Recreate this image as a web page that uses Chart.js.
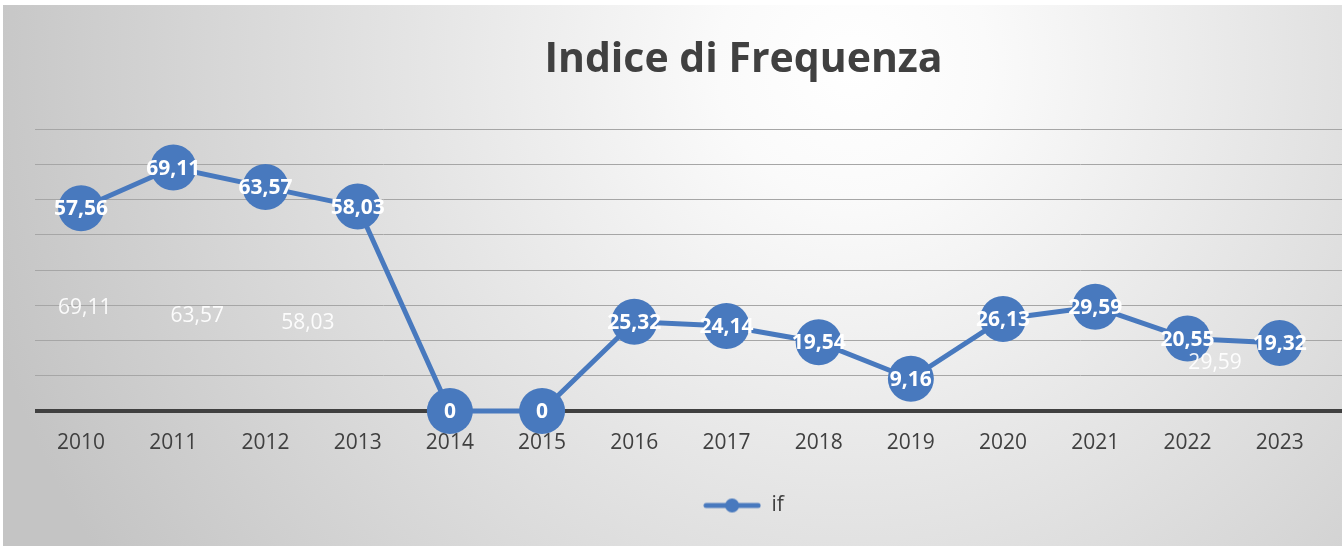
<!DOCTYPE html>
<html>
<head>
<meta charset="utf-8">
<script src="https://cdn.jsdelivr.net/npm/chart.js@4/dist/chart.umd.min.js"></script>
<style>
  html, body { margin: 0; padding: 0; background: #ffffff; overflow: hidden; }
  #wrap {
    position: absolute; left: 3px; top: 5px; width: 1339px; height: 541px; overflow: hidden;
    background: radial-gradient(circle 900px at 850px 60px, #ffffff 0%, #fafafa 15%, #c4c4c4 100%);
  }
  #chartBox { position: absolute; left: 0; top: 0; width: 1449px; height: 541px; }
</style>
</head>
<body>
<div id="wrap"><div id="chartBox"><canvas id="myChart"></canvas></div></div>
<script>
// data
var years = ['2010', '2011', '2012', '2013', '2014', '2015', '2016', '2017', '2018', '2019', '2020', '2021', '2022', '2023'];
var ifValues = [57.56, 69.11, 63.57, 58.03, 0, 0, 25.32, 24.14, 19.54, 9.16, 26.13, 29.59, 20.55, 19.32];
var yTicks = [0, 10, 20, 30, 40, 50, 60, 70, 80];

// stray labels left over in the original picture
var ghostText = ['69,11', '63,57', '58,03', '29,59'];
var ghostX = [0.04, 1.26, 2.46, 12.3];
var ghostY = [29.2, 27.0, 25.0, 13.6];

var blue = '#4879BE';

function fmt(v) {
    return v === 0 ? '0' : v.toFixed(2).replace('.', ',');
}

// legend marker: line with a dot in the middle
var marker = document.createElement('canvas');
marker.width = 58; marker.height = 16;
var mctx = marker.getContext('2d');
mctx.strokeStyle = blue; mctx.lineWidth = 5; mctx.lineCap = 'round';
mctx.beginPath(); mctx.moveTo(3, 8); mctx.lineTo(55, 8); mctx.stroke();
mctx.fillStyle = blue;
mctx.beginPath(); mctx.arc(29, 8, 7, 0, Math.PI * 2); mctx.fill();

// draw value labels on the points
var valueLabels = {
    id: 'valueLabels',
    afterDatasetsDraw: function(chart) {
        var ctx = chart.ctx;
        ctx.save();
        ctx.textAlign = 'center';
        ctx.textBaseline = 'middle';
        chart.getDatasetMeta(0).data.forEach(function(pt, i) {
            ctx.font = 'bold 21px "Open Sans"';
            ctx.fillStyle = '#ffffff';
            ctx.fillText(fmt(ifValues[i]), pt.x, pt.y + 1);
        });
        chart.getDatasetMeta(1).data.forEach(function(pt, i) {
            ctx.font = '21px "Open Sans"';
            ctx.fillStyle = 'rgba(255,255,255,0.92)';
            ctx.fillText(ghostText[i], pt.x, pt.y);
        });
        ctx.restore();
    }
};

var ctx = document.getElementById('myChart').getContext('2d');
var myChart = new Chart(ctx, {
    type: 'line',
    data: {
        datasets: [{
            label: 'if',
            data: ifValues.map(function(v, i) { return { x: i, y: v }; }),
            borderColor: blue,
            backgroundColor: blue,
            borderWidth: 5,
            pointRadius: 23,
            pointHoverRadius: 23,
            pointBackgroundColor: blue,
            pointBorderWidth: 0,
            tension: 0,
            clip: false
        }, {
            label: 'ghost',
            data: ghostX.map(function(x, i) { return { x: x, y: ghostY[i] }; }),
            showLine: false,
            pointRadius: 0,
            pointHoverRadius: 0
        }]
    },
    options: {
        responsive: true,
        maintainAspectRatio: false,
        animation: false,
        layout: {
            padding: { left: 32, right: 0, top: 0, bottom: 20 }
        },
        scales: {
            x: {
                type: 'linear',
                min: -0.5,
                max: 14.62,
                afterBuildTicks: function(scale) {
                    scale.ticks = years.map(function(y, i) { return { value: i }; });
                },
                afterFit: function(scale) {
                    scale.height = 74;
                },
                ticks: {
                    callback: function(value) { return years[value]; },
                    color: '#404040',
                    padding: 19,
                    maxRotation: 0,
                    autoSkip: false,
                    font: { family: '"Open Sans"', size: 21 }
                },
                grid: { display: false, drawTicks: false },
                border: { display: false }
            },
            y: {
                min: 0,
                max: 80,
                afterBuildTicks: function(scale) {
                    scale.ticks = yTicks.map(function(v) { return { value: v }; });
                },
                ticks: { display: false },
                grid: {
                    drawTicks: false,
                    color: function(c) { return c.tick.value === 0 ? '#404040' : '#a6a6a6'; },
                    lineWidth: function(c) { return c.tick.value === 0 ? 4 : 1; }
                },
                border: { display: false }
            }
        },
        plugins: {
            title: {
                display: true,
                text: 'Indice di Frequenza',
                color: '#404040',
                font: { family: '"Open Sans"', size: 41, weight: 'bold' },
                padding: { top: 31, bottom: 44 }
            },
            legend: {
                position: 'bottom',
                labels: {
                    filter: function(item) { return item.datasetIndex === 0; },
                    usePointStyle: true,
                    pointStyle: marker,
                    pointStyleWidth: 58,
                    boxHeight: 16,
                    color: '#404040',
                    font: { family: '"Open Sans"', size: 21 }
                }
            },
            tooltip: { enabled: false }
        }
    },
    plugins: [valueLabels]
});
</script>
</body>
</html>
